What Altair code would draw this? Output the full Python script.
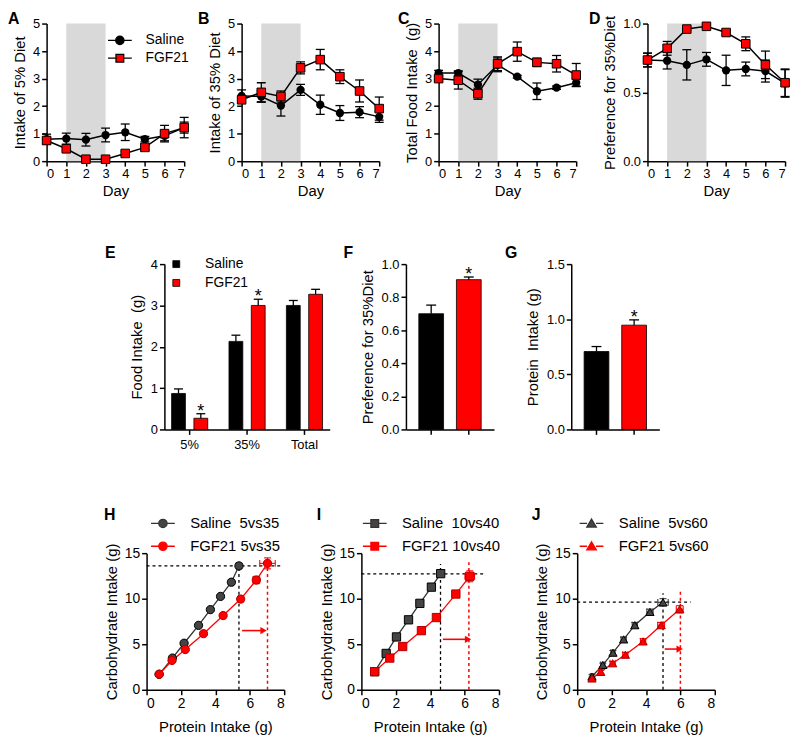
import altair as alt
import pandas as pd

FONT = "Liberation Sans"
RED = "#ff0000"

# ---------------- data ----------------
letters = ["A", "B", "C", "D", "E", "F", "G", "H", "I", "J"]
days = [0, 1, 2, 3, 4, 5, 6, 7]
groups = ["Saline", "FGF21"]
shade_days = [1, 3]

a_sal = [0.80, 0.82, 0.78, 0.95, 1.05, 0.80, 0.92, 1.22]
a_sal_err = [0.18, 0.20, 0.23, 0.25, 0.30, 0.10, 0.18, 0.37]
a_fgf = [0.75, 0.45, 0.07, 0.07, 0.28, 0.50, 1.00, 1.22]
a_fgf_err = [0.10, 0.08, 0.04, 0.04, 0.08, 0.08, 0.30, 0.20]

b_sal = [2.37, 2.35, 2.02, 2.59, 2.05, 1.75, 1.78, 1.61]
b_sal_err = [0.22, 0.20, 0.38, 0.20, 0.35, 0.27, 0.20, 0.20]
b_fgf = [2.23, 2.50, 2.35, 3.39, 3.69, 3.07, 2.55, 1.91]
b_fgf_err = [0.10, 0.35, 0.20, 0.22, 0.37, 0.25, 0.40, 0.42]

c_sal = [3.20, 3.20, 2.78, 3.50, 3.07, 2.54, 2.67, 2.85]
c_sal_err = [0.10, 0.08, 0.20, 0.25, 0.05, 0.30, 0.06, 0.12]
c_fgf = [3.00, 2.94, 2.45, 3.54, 3.98, 3.59, 3.54, 3.13]
c_fgf_err = [0.10, 0.32, 0.20, 0.25, 0.35, 0.15, 0.30, 0.42]

d_sal = [0.735, 0.73, 0.70, 0.74, 0.66, 0.67, 0.655, 0.565]
d_sal_err = [0.05, 0.06, 0.11, 0.05, 0.11, 0.05, 0.08, 0.10]
d_fgf = [0.735, 0.82, 0.96, 0.98, 0.935, 0.853, 0.70, 0.57]
d_fgf_err = [0.05, 0.05, 0.01, 0.01, 0.02, 0.05, 0.10, 0.10]

e_cats = ["5%", "35%", "Total"]
e_sal = [0.87, 2.13, 3.00]
e_sal_err = [0.11, 0.15, 0.12]
e_fgf = [0.27, 3.00, 3.27]
e_fgf_err = [0.11, 0.15, 0.12]
e_fgf_star = [True, True, False]

f_vals = [0.70, 0.906]
f_err = [0.052, 0.016]
f_star = [False, True]

g_vals = [0.707, 0.946]
g_err = [0.045, 0.048]
g_star = [False, True]

h_labels = ["Saline\u00a0 5vs35", "FGF21 5vs35"]
h_sal_x = [0.73, 1.50, 2.18, 3.02, 3.71, 4.30, 4.93, 5.37]
h_sal_y = [1.70, 3.48, 5.11, 7.07, 8.80, 10.25, 11.81, 13.60]
h_sal_xe = [0.03, 0.04, 0.05, 0.05, 0.06, 0.08, 0.10, 0.12]
h_sal_ye = [0.10, 0.12, 0.15, 0.15, 0.20, 0.20, 0.25, 0.30]
h_fgf_x = [0.73, 1.48, 2.25, 3.31, 4.45, 5.47, 6.38, 7.03]
h_fgf_y = [1.70, 3.22, 4.42, 6.16, 8.15, 9.96, 12.05, 13.88]
h_fgf_xe = [0.03, 0.04, 0.05, 0.07, 0.08, 0.12, 0.20, 0.45]
h_fgf_ye = [0.10, 0.10, 0.15, 0.20, 0.25, 0.30, 0.40, 0.60]
h_hdash = [13.60, 0.0, 7.8]     # y, from x, to x
h_vdash_sal = [5.37, 13.65]     # x, top y
h_vdash_fgf = [7.03, 14.3]
h_arrow = [5.55, 6.80, 6.5]     # from x, to x, y

i_labels = ["Saline\u00a0 10vs40", "FGF21 10vs40"]
i_sal_x = [0.77, 1.44, 2.04, 2.74, 3.40, 4.07, 4.61]
i_sal_y = [1.99, 3.99, 5.80, 7.68, 9.49, 11.27, 12.75]
i_sal_xe = [0.03, 0.04, 0.05, 0.06, 0.08, 0.08, 0.12]
i_sal_ye = [0.10, 0.12, 0.15, 0.20, 0.20, 0.25, 0.30]
i_fgf_x = [0.77, 1.65, 2.40, 3.49, 4.36, 5.49, 6.30]
i_fgf_y = [1.99, 3.48, 4.75, 6.49, 7.93, 10.51, 12.46]
i_fgf_xe = [0.03, 0.05, 0.06, 0.08, 0.10, 0.22, 0.28]
i_fgf_ye = [0.10, 0.12, 0.15, 0.20, 0.25, 0.35, 0.60]
i_hdash = [12.72, 0.0, 7.25]
i_vdash_sal = [4.60, 13.8]
i_vdash_fgf = [6.25, 14.0]
i_arrow = [4.74, 6.20, 5.54]

j_labels = ["Saline\u00a0 5vs60", "FGF21 5vs60"]
j_sal_x = [0.86, 1.49, 2.08, 2.70, 3.35, 4.23, 4.99]
j_sal_y = [1.45, 2.73, 4.07, 5.53, 7.09, 8.55, 9.60]
j_sal_xe = [0.10, 0.12, 0.12, 0.15, 0.15, 0.18, 0.30]
j_sal_ye = [0.20, 0.20, 0.25, 0.25, 0.30, 0.30, 0.40]
j_fgf_x = [0.86, 1.37, 2.06, 2.80, 3.83, 4.88, 5.96]
j_fgf_y = [1.24, 1.96, 2.91, 3.85, 5.31, 7.09, 8.84]
j_fgf_xe = [0.10, 0.10, 0.15, 0.15, 0.15, 0.20, 0.20]
j_fgf_ye = [0.15, 0.15, 0.20, 0.25, 0.30, 0.30, 0.40]
j_hdash = [9.62, 0.0, 6.6]
j_vdash_sal = [4.99, 10.6]
j_vdash_fgf = [6.00, 10.8]
j_arrow = [5.09, 5.96, 4.47]

# legend glyphs: line through a marker (unit = sqrt(size)/2 px)
PATH_CIRCLE = "M-2,0H-0.7M0.7,0H2M-0.7,0A0.7,0.7,0,1,1,0.7,0A0.7,0.7,0,1,1,-0.7,0Z"
PATH_SQUARE = "M-2,0H-0.65M0.65,0H2M-0.65,-0.65H0.65V0.65H-0.65Z"
PATH_TRI = "M-2,0H-0.75M0.75,0H2M0,-0.75L0.8,0.6H-0.8Z"

TW, TH = 139, 139      # top panels
EW, EH = 167, 167
FW = 89
BW, BH = 139, 138      # bottom panels

IND = dict(shape="independent", fill="independent", stroke="independent")


def letter_layer(text, dx, dy):
    return alt.Chart(pd.DataFrame({"t": [text]})).mark_text(
        align="left", baseline="alphabetic", font=FONT, fontSize=16,
        fontWeight="bold", color="black"
    ).encode(text="t:N", x=alt.value(dx), y=alt.value(dy))


def legend_layer(labels, shapes, fills, strokes, lx, ly, fs, loff, rpad, ssize=144, sw=1.3):
    lg = alt.Legend(orient="none", legendX=lx, legendY=ly, title=None,
                    labelFontSize=fs, labelFont=FONT, labelColor="black",
                    symbolSize=ssize, symbolStrokeWidth=sw, labelOffset=loff,
                    rowPadding=rpad, padding=0)
    return alt.Chart(pd.DataFrame({"group": labels})).transform_filter("false").mark_point(
        filled=True, opacity=1
    ).encode(
        shape=alt.Shape("group:N", scale=alt.Scale(domain=labels, range=shapes), legend=lg),
        fill=alt.Fill("group:N", scale=alt.Scale(domain=labels, range=fills), legend=lg),
        stroke=alt.Stroke("group:N", scale=alt.Scale(domain=labels, range=strokes), legend=lg),
    )


def spacer(w, h=1):
    return alt.Chart(pd.DataFrame({"z": [0]})).mark_point(opacity=0).encode(
        x=alt.value(0), y=alt.value(0)).properties(width=w, height=h)


def line_panel(let, ldx, ytitle, sal, sal_err, fgf, fgf_err, ydom, yvals, yfmt, legend=False):
    n = len(days)
    df = pd.DataFrame({"day": days * 2, "group": ["Saline"] * n + ["FGF21"] * n,
                       "mean": sal + fgf, "err": sal_err + fgf_err})
    df["lo"] = df["mean"] - df["err"]
    df["hi"] = df["mean"] + df["err"]
    caps = pd.concat([pd.DataFrame({"day": df["day"], "cap": df["lo"]}),
                      pd.DataFrame({"day": df["day"], "cap": df["hi"]})], ignore_index=True)
    xs = alt.Scale(domain=[days[0], days[-1]], nice=False, zero=False)
    ys = alt.Scale(domain=ydom, nice=False)
    xax = alt.Axis(values=days, title="Day", labelAngle=0, titlePadding=3)
    yax = alt.Axis(values=yvals, format=yfmt, title=ytitle, titlePadding=5)

    def X(f):
        return alt.X(f + ":Q", scale=xs, axis=xax)

    def Y(f):
        return alt.Y(f + ":Q", scale=ys, axis=yax)

    shade = alt.Chart(pd.DataFrame({"s": [shade_days[0]], "e": [shade_days[1]]})).mark_rect(
        color="#d9d9d9").encode(x=X("s"), x2="e:Q", y=alt.value(0), y2=alt.value(TH))
    lines = alt.Chart(df).mark_line(color="black", strokeWidth=1.5).encode(
        x=X("day"), y=Y("mean"), detail="group:N")
    rules = alt.Chart(df).mark_rule(color="black", strokeWidth=1.3).encode(
        x=X("day"), y=Y("lo"), y2="hi:Q")
    capm = alt.Chart(caps).mark_tick(orient="horizontal", size=9, thickness=1.3,
                                     color="black", opacity=1).encode(x=X("day"), y=Y("cap"))
    p_sal = alt.Chart(df).transform_filter(alt.datum.group == "Saline").mark_point(
        shape="circle", filled=True, size=70, color="black", opacity=1).encode(x=X("day"), y=Y("mean"))
    p_fgf = alt.Chart(df).transform_filter(alt.datum.group == "FGF21").mark_point(
        shape="square", filled=True, size=75, fill=RED, stroke="black", strokeWidth=1,
        opacity=1).encode(x=X("day"), y=Y("mean"))
    layers = [shade, lines, rules, capm, p_sal, p_fgf]
    if legend:
        layers.append(legend_layer(groups, [PATH_CIRCLE, PATH_SQUARE], ["black", RED],
                                   ["black", "black"], 67, 10, 14, 19, 4))
    layers.append(letter_layer(let, ldx, 0))
    return alt.layer(*layers).properties(width=TW, height=TH)


def panel_e():
    n = len(e_cats)
    df = pd.DataFrame({"cat": e_cats * 2, "group": ["Saline"] * n + ["FGF21"] * n,
                       "mean": e_sal + e_fgf, "err": e_sal_err + e_fgf_err,
                       "star": [False] * n + e_fgf_star})
    df["hi"] = df["mean"] + df["err"]
    xs = alt.Scale(domain=e_cats, paddingInner=0.3, paddingOuter=0.09)
    xos = alt.Scale(domain=groups, paddingInner=0.38, paddingOuter=0.09)
    ys = alt.Scale(domain=[0, 4], nice=False)
    xax = alt.Axis(title=None, labelAngle=0, labelPadding=4)
    yax = alt.Axis(values=[0, 1, 2, 3, 4], title="Food Intake\u00a0 (g)", titlePadding=6)
    X = alt.X("cat:N", scale=xs, axis=xax)
    XO = alt.XOffset("group:N", scale=xos)

    def Y(f):
        return alt.Y(f + ":Q", scale=ys, axis=yax)

    lg = alt.Legend(orient="none", legendX=5, legendY=-7, title=None, labelFontSize=14,
                    labelFont=FONT, labelColor="black", symbolType="square", symbolSize=49,
                    symbolStrokeColor="black", symbolStrokeWidth=0.8, labelOffset=22,
                    rowPadding=5, padding=0)
    bars = alt.Chart(df).mark_bar(stroke="black", strokeWidth=0.8).encode(
        x=X, xOffset=XO, y=Y("mean"),
        fill=alt.Fill("group:N", scale=alt.Scale(domain=groups, range=["black", RED]), legend=lg))
    rules = alt.Chart(df).mark_rule(color="black", strokeWidth=1.3).encode(
        x=X, xOffset=XO, y=Y("mean"), y2="hi:Q")
    capm = alt.Chart(df).mark_tick(orient="horizontal", size=9, thickness=1.3, color="black",
                                   opacity=1).encode(x=X, xOffset=XO, y=Y("hi"))
    stars = alt.Chart(df).transform_filter(alt.datum.star).mark_text(
        text="*", font=FONT, fontSize=18, baseline="alphabetic", dy=3, color="black").encode(
        x=X, xOffset=XO, y=Y("hi"))
    return alt.layer(bars, rules, capm, stars, letter_layer(letters[4], -60, -6)).properties(
        width=EW, height=EH)


def panel_bar2(let, ldx, ytitle, vals, errs, stars_, ydom, yvals):
    df = pd.DataFrame({"group": groups, "mean": vals, "err": errs, "star": stars_})
    df["hi"] = df["mean"] + df["err"]
    xs = alt.Scale(domain=groups, paddingInner=0.342, paddingOuter=0.342)
    ys = alt.Scale(domain=ydom, nice=False)
    xax = alt.Axis(title=None, labels=False)
    yax = alt.Axis(values=yvals, format=".1f", title=ytitle, titlePadding=6)
    X = alt.X("group:N", scale=xs, axis=xax)

    def Y(f):
        return alt.Y(f + ":Q", scale=ys, axis=yax)

    bars = alt.Chart(df).mark_bar(stroke="black", strokeWidth=0.8).encode(
        x=X, y=Y("mean"),
        fill=alt.Fill("group:N", scale=alt.Scale(domain=groups, range=["black", RED]), legend=None))
    rules = alt.Chart(df).mark_rule(color="black", strokeWidth=1.3).encode(x=X, y=Y("mean"), y2="hi:Q")
    capm = alt.Chart(df).mark_tick(orient="horizontal", size=10, thickness=1.3, color="black",
                                   opacity=1).encode(x=X, y=Y("hi"))
    st = alt.Chart(df).transform_filter(alt.datum.star).mark_text(
        text="*", font=FONT, fontSize=18, baseline="alphabetic", dy=3, color="black").encode(
        x=X, y=Y("hi"))
    return alt.layer(bars, rules, capm, st, letter_layer(let, ldx, -6)).properties(width=FW, height=EH)


def scatter_panel(let, ldx, labels, shape, lpath, sal, fgf, hdash, vds, vdf, arrow, lx):
    def mk(d, grp):
        x, y, xe, ye = d
        df = pd.DataFrame({"x": x, "y": y, "xe": xe, "ye": ye})
        df["xlo"] = df["x"] - df["xe"]
        df["xhi"] = df["x"] + df["xe"]
        df["ylo"] = df["y"] - df["ye"]
        df["yhi"] = df["y"] + df["ye"]
        df["i"] = range(len(df))
        df["group"] = grp
        return df

    ds, dfg = mk(sal, "Saline"), mk(fgf, "FGF21")
    xs = alt.Scale(domain=[0, 8], nice=False)
    ys = alt.Scale(domain=[0, 15], nice=False)
    xax = alt.Axis(values=[0, 2, 4, 6, 8], title="Protein Intake (g)", labelFontSize=14,
                   titlePadding=9)
    yax = alt.Axis(values=[0, 5, 10, 15], title="Carbohydrate Intake (g)", labelFontSize=14,
                   titlePadding=5)

    def X(f):
        return alt.X(f + ":Q", scale=xs, axis=xax)

    def Y(f):
        return alt.Y(f + ":Q", scale=ys, axis=yax)

    dash_k = pd.DataFrame({"x1": [hdash[1], vds[0]], "x2": [hdash[2], vds[0]],
                           "y1": [hdash[0], 0], "y2": [hdash[0], vds[1]]})
    dash_r = pd.DataFrame({"x1": [vdf[0]], "x2": [vdf[0]], "y1": [0], "y2": [vdf[1]]})
    layers = [
        alt.Chart(dash_k).mark_rule(color="black", strokeWidth=1.3, strokeDash=[3, 3]).encode(
            x=X("x1"), x2="x2:Q", y=Y("y1"), y2="y2:Q"),
        alt.Chart(dash_r).mark_rule(color=RED, strokeWidth=1.5, strokeDash=[3, 3]).encode(
            x=X("x1"), x2="x2:Q", y=Y("y1"), y2="y2:Q"),
    ]
    styles = [(ds, "#333333", "#444444", "black"), (dfg, RED, RED, "#b00000")]
    for d, lc, fc, sc in styles:
        layers.append(alt.Chart(d).mark_line(color=lc, strokeWidth=1.3).encode(
            x=X("x"), y=Y("y"), order="i:Q"))
    for d, lc, fc, sc in styles:
        xc = pd.concat([pd.DataFrame({"cx": d["xlo"], "y": d["y"]}),
                        pd.DataFrame({"cx": d["xhi"], "y": d["y"]})], ignore_index=True)
        yc = pd.concat([pd.DataFrame({"x": d["x"], "cy": d["ylo"]}),
                        pd.DataFrame({"x": d["x"], "cy": d["yhi"]})], ignore_index=True)
        layers += [
            alt.Chart(d).mark_rule(color=lc, strokeWidth=1.1).encode(x=X("xlo"), x2="xhi:Q", y=Y("y")),
            alt.Chart(d).mark_rule(color=lc, strokeWidth=1.1).encode(x=X("x"), y=Y("ylo"), y2="yhi:Q"),
            alt.Chart(xc).mark_tick(orient="vertical", size=7, thickness=1.1, color=lc,
                                    opacity=1).encode(x=X("cx"), y=Y("y")),
            alt.Chart(yc).mark_tick(orient="horizontal", size=7, thickness=1.1, color=lc,
                                    opacity=1).encode(x=X("x"), y=Y("cy")),
        ]
    for d, lc, fc, sc in styles:
        layers.append(alt.Chart(d).mark_point(shape=shape, filled=True, size=70, fill=fc, stroke=sc,
                                              strokeWidth=1, opacity=1).encode(x=X("x"), y=Y("y")))
    adf = pd.DataFrame({"a0": [arrow[0]], "a1": [arrow[1]], "ay": [arrow[2]]})
    layers += [
        alt.Chart(adf).mark_rule(color=RED, strokeWidth=1.6).encode(x=X("a0"), x2="a1:Q", y=Y("ay")),
        alt.Chart(adf).mark_point(shape="triangle-right", filled=True, size=55, color=RED,
                                  opacity=1).encode(x=X("a1"), y=Y("ay")),
        legend_layer(labels, [lpath, lpath], ["#444444", RED], ["#333333", RED], lx, -37.5, 15, 20, 7),
        letter_layer(let, ldx, -33),
    ]
    return alt.layer(*layers).properties(width=BW, height=BH)


# ---------------- panels ----------------
pA = line_panel(letters[0], -39, "Intake of 5% Diet", a_sal, a_sal_err, a_fgf, a_fgf_err,
                [0, 5], [0, 1, 2, 3, 4, 5], "d", legend=True)
pB = line_panel(letters[1], -44, "Intake of 35% Diet", b_sal, b_sal_err, b_fgf, b_fgf_err,
                [0, 5], [0, 1, 2, 3, 4, 5], "d")
pC = line_panel(letters[2], -41, "Total Food Intake\u00a0 (g)", c_sal, c_sal_err, c_fgf, c_fgf_err,
                [0, 5], [0, 1, 2, 3, 4, 5], "d")
pD = line_panel(letters[3], -59, "Preference for 35%Diet", d_sal, d_sal_err, d_fgf, d_fgf_err,
                [0, 1], [0, 0.5, 1.0], ".1f")

pE = panel_e()
pF = panel_bar2(letters[5], -63, "Preference for 35%Diet", f_vals, f_err, f_star, [0, 1],
                [0, 0.2, 0.4, 0.6, 0.8, 1.0])
pG = panel_bar2(letters[6], -67, "Protein\u00a0 Intake (g)", g_vals, g_err, g_star, [0, 1.5],
                [0, 0.5, 1.0, 1.5])

pH = scatter_panel(letters[7], -43, h_labels, "circle", PATH_CIRCLE,
                   (h_sal_x, h_sal_y, h_sal_xe, h_sal_ye), (h_fgf_x, h_fgf_y, h_fgf_xe, h_fgf_ye),
                   h_hdash, h_vdash_sal, h_vdash_fgf, h_arrow, 9)
pI = scatter_panel(letters[8], -45, i_labels, "square", PATH_SQUARE,
                   (i_sal_x, i_sal_y, i_sal_xe, i_sal_ye), (i_fgf_x, i_fgf_y, i_fgf_xe, i_fgf_ye),
                   i_hdash, i_vdash_sal, i_vdash_fgf, i_arrow, 6)
pJ = scatter_panel(letters[9], -46, j_labels, "triangle-up", PATH_TRI,
                   (j_sal_x, j_sal_y, j_sal_xe, j_sal_ye), (j_fgf_x, j_fgf_y, j_fgf_xe, j_fgf_ye),
                   j_hdash, j_vdash_sal, j_vdash_fgf, j_arrow, 7)

row1 = alt.hconcat(pA, spacer(58), pB, spacer(60), pC, spacer(72), pD, spacing=0,
                   bounds="flush").resolve_scale(**IND).resolve_legend(**IND)
row2 = alt.hconcat(spacer(119), pE, spacer(77), pF, spacer(78), pG, spacing=0,
                   bounds="flush").resolve_scale(**IND).resolve_legend(**IND)
row3 = alt.hconcat(spacer(101), pH, spacer(78), pI, spacer(79), pJ, spacing=0,
                   bounds="flush").resolve_scale(**IND).resolve_legend(**IND)

chart = alt.vconcat(row1, spacer(1, 44), row2, spacer(1, 54), row3, spacing=0).resolve_scale(
    **IND).resolve_legend(**IND).properties(
    padding={"left": 0, "top": -1, "right": 0, "bottom": 0}
).configure_view(stroke=None).configure_axis(
    domainColor="black", domainWidth=1.5, tickColor="black", tickWidth=1.5, tickSize=5,
    labelFont=FONT, labelFontSize=13, labelColor="black", labelPadding=2,
    titleFont=FONT, titleFontSize=15, titleColor="black", titleFontWeight="normal", grid=False
)

chart.save("out.html", embed_options={"renderer": "svg", "actions": False})
